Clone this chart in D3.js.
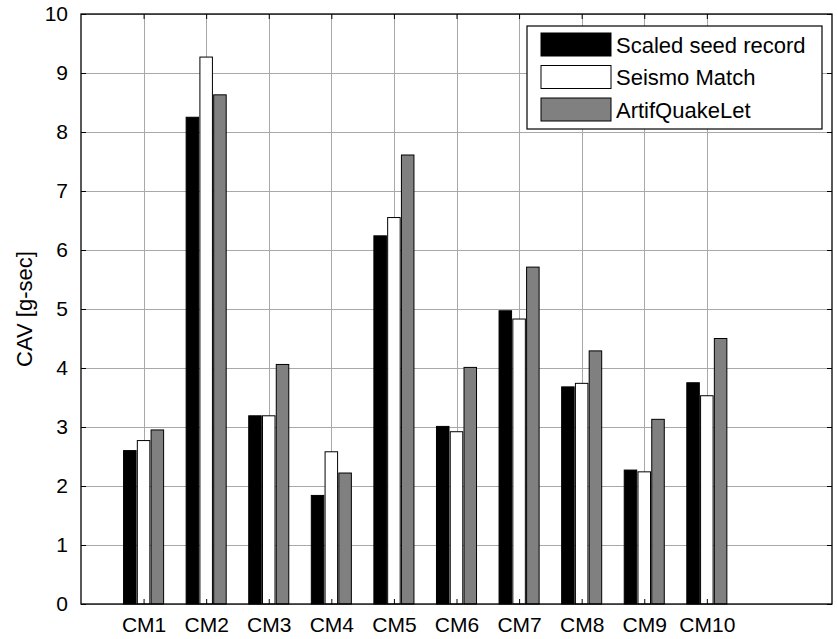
<!DOCTYPE html>
<html><head><meta charset="utf-8">
<script src="https://cdn.jsdelivr.net/npm/d3@7"></script>
<style>body{margin:0;background:#fff;} svg{display:block;font-family:"Liberation Sans",Arial,sans-serif;}</style>
</head><body>
<script>
const categories = ["CM1","CM2","CM3","CM4","CM5","CM6","CM7","CM8","CM9","CM10"];
const seriesNames = ["Scaled seed record","Seismo Match","ArtifQuakeLet"];
const scaledSeed = [2.60, 8.25, 3.19, 1.84, 6.24, 3.01, 4.97, 3.68, 2.27, 3.75];
const seismoMatch = [2.77, 9.27, 3.19, 2.58, 6.55, 2.92, 4.83, 3.74, 2.24, 3.53];
const artifQuake = [2.95, 8.63, 4.06, 2.22, 7.61, 4.01, 5.71, 4.29, 3.13, 4.50];
const yTicks = [0,1,2,3,4,5,6,7,8,9,10];
const fills = ["#000000","#ffffff","#808080"];
const series = [scaledSeed, seismoMatch, artifQuake];

const W = 838, H = 639;
const L = 81, R = 832, T = 14, B = 604;
const svg = d3.select("body").append("svg").attr("width", W).attr("height", H);

const x = d3.scaleLinear().domain([0, 12]).range([L, R]);
const y = d3.scaleLinear().domain([0, 10]).range([B, T]);

const grid = svg.append("g").attr("stroke", "#a8a8a8").attr("stroke-width", 1);
grid.selectAll("line.h").data(yTicks).enter().append("line")
  .attr("x1", L).attr("x2", R).attr("y1", d => Math.round(y(d)) + 0.5).attr("y2", d => Math.round(y(d)) + 0.5);
grid.selectAll("line.v").data(categories).enter().append("line")
  .attr("y1", T).attr("y2", B).attr("x1", (d, i) => Math.round(x(i + 1)) + 0.5).attr("x2", (d, i) => Math.round(x(i + 1)) + 0.5);

const offset = 0.22, bw = 0.2;
series.forEach((vals, s) => {
  svg.append("g").selectAll("rect").data(vals).enter().append("rect")
    .attr("x", (d, i) => x(i + 1 + (s - 1) * offset - bw / 2))
    .attr("width", x(bw) - x(0))
    .attr("y", d => y(d))
    .attr("height", d => y(0) - y(d))
    .attr("fill", fills[s]).attr("stroke", "#000").attr("stroke-width", 1);
});

// axes box
svg.append("rect").attr("x", L).attr("y", T).attr("width", R - L).attr("height", B - T)
  .attr("fill", "none").attr("stroke", "#000").attr("stroke-width", 1.3);

const yAxisL = d3.axisLeft(y).tickValues(yTicks).tickSize(-5).tickPadding(13).tickFormat(d3.format("d"));
const gyl = svg.append("g").attr("transform", `translate(${L},0)`).call(yAxisL);
gyl.select(".domain").remove();
gyl.selectAll("text").attr("font-size", 21).attr("fill", "#000").attr("font-family", "Liberation Sans, Arial, sans-serif");
gyl.selectAll("line").attr("stroke", "#000");
const yAxisR = d3.axisRight(y).tickValues(yTicks).tickSize(-5).tickFormat("");
const gyr = svg.append("g").attr("transform", `translate(${R},0)`).call(yAxisR);
gyr.select(".domain").remove();
gyr.selectAll("line").attr("stroke", "#000");

const xAxisB = d3.axisBottom(x).tickValues(d3.range(1, 11)).tickSize(-5).tickPadding(13)
  .tickFormat((d, i) => categories[i]);
const gxb = svg.append("g").attr("transform", `translate(0,${B})`).call(xAxisB);
gxb.select(".domain").remove();
gxb.selectAll("text").attr("font-size", 21).attr("fill", "#000").attr("font-family", "Liberation Sans, Arial, sans-serif");
gxb.selectAll("line").attr("stroke", "#000");
const xAxisT = d3.axisTop(x).tickValues(d3.range(1, 11)).tickSize(-5).tickFormat("");
const gxt = svg.append("g").attr("transform", `translate(0,${T})`).call(xAxisT);
gxt.select(".domain").remove();
gxt.selectAll("line").attr("stroke", "#000");

svg.append("text").attr("transform", `translate(32,${(T + B) / 2}) rotate(-90)`)
  .attr("text-anchor", "middle").attr("font-size", 22).attr("fill", "#000").text("CAV [g-sec]");

const lg = svg.append("g");
lg.append("rect").attr("x", 527).attr("y", 26).attr("width", 295).attr("height", 103)
  .attr("fill", "#fff").attr("stroke", "#000").attr("stroke-width", 1.2);
seriesNames.forEach((n, i) => {
  const cy = 44.5 + i * 32.5;
  lg.append("rect").attr("x", 541).attr("y", cy - 11.5).attr("width", 70).attr("height", 23)
    .attr("fill", fills[i]).attr("stroke", "#000").attr("stroke-width", 1);
  lg.append("text").attr("x", 616).attr("y", cy + 8).attr("font-size", 22).attr("fill", "#000").text(n);
});
</script>
</body></html>
